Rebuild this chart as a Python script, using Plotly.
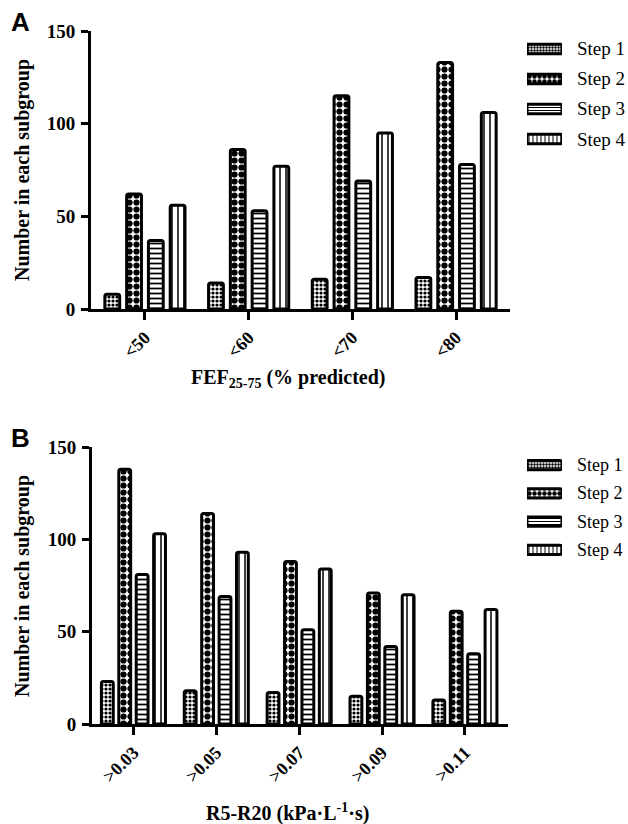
import plotly.graph_objects as go

# ---------------- data ----------------
series_names = ["Step 1", "Step 2", "Step 3", "Step 4"]

cats_a = ["<50", "<60", "<70", "<80"]
a_step1 = [8, 14, 16, 17]
a_step2 = [62, 86, 115, 133]
a_step3 = [37, 53, 69, 78]
a_step4 = [56, 77, 95, 106]

cats_b = [">0.03", ">0.05", ">0.07", ">0.09", ">0.11"]
b_step1 = [23, 18, 17, 15, 13]
b_step2 = [138, 114, 88, 71, 61]
b_step3 = [81, 69, 51, 42, 38]
b_step4 = [103, 93, 84, 70, 62]

y_ticks = [0, 50, 100, 150]

# ---------------- styles ----------------
W, H = 628, 824
SERIF = "Liberation Serif"
SANS = "Liberation Sans"

patterns = [
    dict(shape=".", size=4, solidity=0.5),
    dict(shape=".", size=7, solidity=0.62),
    dict(shape="-", size=5, solidity=0.35),
    dict(shape="|", size=6, solidity=0.25),
]

def px_x(p):
    return p / W

def px_y(p):
    return 1 - p / H

fig = go.Figure()

def add_panel(cats, series, xa, ya):
    for name, vals, pat in zip(series_names, series, patterns):
        fig.add_trace(go.Bar(
            x=cats, y=vals, name=name, xaxis=xa, yaxis=ya,
            showlegend=False,
            marker=dict(color="white",
                        line=dict(color="black", width=3),
                        cornerradius=2,
                        pattern=dict(fgcolor="black", bgcolor="white",
                                     fillmode="replace", **pat)),
        ))

add_panel(cats_a, [a_step1, a_step2, a_step3, a_step4], "x", "y")
add_panel(cats_b, [b_step1, b_step2, b_step3, b_step4], "x2", "y2")

swatch_len = [1] * len(series_names)

# legend swatches (drawn as small horizontal bars on their own axes)
def add_legend(xa, ya, fsize):
    fig.add_trace(go.Bar(
        y=series_names, x=swatch_len, orientation="h",
        xaxis=xa, yaxis=ya, showlegend=False, width=0.32,
        marker=dict(color="white",
                    line=dict(color="black", width=3),
                    cornerradius=2,
                    pattern=dict(fgcolor="black", bgcolor="white", fillmode="replace",
                                 shape=[p["shape"] for p in patterns],
                                 size=[max(3, p["size"] - 2) for p in patterns],
                                 solidity=[p["solidity"] for p in patterns])),
    ))
    for name, v in zip(series_names, swatch_len):
        fig.add_annotation(text=name, x=v, y=name, xref=xa, yref=ya,
                           xanchor="left", yanchor="middle", xshift=13,
                           showarrow=False,
                           font=dict(family=SERIF, size=fsize, color="black"))

add_legend("x3", "y3", 19)
add_legend("x4", "y4", 18)

tickfont = dict(family=SERIF, size=19, color="black", weight="bold")
xtickfont = dict(family=SERIF, size=18, color="black", weight="bold")

def yaxis_style(domain):
    return dict(domain=domain, range=[0, 150], tickvals=y_ticks,
                showline=True, linecolor="black", linewidth=3,
                ticks="outside", ticklen=7, tickwidth=3, tickcolor="black",
                showgrid=False, zeroline=False, tickfont=tickfont,
                ticklabelstandoff=2, automargin=False)

def xaxis_style(domain, rng):
    return dict(domain=domain, range=rng, type="category",
                showline=True, linecolor="black", linewidth=3,
                ticks="outside", ticklen=8, tickwidth=3, tickcolor="black",
                showgrid=False, zeroline=False, tickfont=xtickfont,
                tickangle=-45, automargin=False)

xa = xaxis_style([px_x(91), px_x(510)], [-0.52, 3.52]); xa["anchor"] = "y"
ya = yaxis_style([px_y(309), px_y(31)]); ya["anchor"] = "x"
xb = xaxis_style([px_x(92), px_x(508)], [-0.5, 4.52]); xb["anchor"] = "y2"
yb = yaxis_style([px_y(724), px_y(447)]); yb["anchor"] = "x2"

def leg_axes(xdom, ydom):
    lx = dict(domain=xdom, range=[0, 1], visible=False, fixedrange=True, automargin=False)
    ly = dict(domain=ydom, type="category", range=[3.5, -0.5],
              visible=False, fixedrange=True, automargin=False)
    return lx, ly

x3, y3 = leg_axes([px_x(527), px_x(562)], [px_y(154), px_y(34)])
x3["anchor"] = "y3"; y3["anchor"] = "x3"
x4, y4 = leg_axes([px_x(527), px_x(562)], [px_y(564), px_y(451)])
x4["anchor"] = "y4"; y4["anchor"] = "x4"

fig.update_layout(
    width=W, height=H, margin=dict(l=0, r=0, t=0, b=0, autoexpand=False),
    paper_bgcolor="white", plot_bgcolor="white",
    barmode="group", bargap=0.16, bargroupgap=0.32,
    xaxis=xa, yaxis=ya, xaxis2=xb, yaxis2=yb,
    xaxis3=x3, yaxis3=y3, xaxis4=x4, yaxis4=y4,
    showlegend=False,
)

ann = [
    dict(text="<b>A</b>", x=px_x(9), y=px_y(22), xanchor="left", yanchor="middle",
         font=dict(family=SANS, size=26, color="black")),
    dict(text="<b>B</b>", x=px_x(9), y=px_y(438), xanchor="left", yanchor="middle",
         font=dict(family=SANS, size=26, color="black")),
    dict(text="<b>Number in each subgroup</b>", x=px_x(22), y=px_y(170), textangle=-90,
         xanchor="center", yanchor="middle", font=dict(family=SERIF, size=20, color="black")),
    dict(text="<b>Number in each subgroup</b>", x=px_x(22), y=px_y(586), textangle=-90,
         xanchor="center", yanchor="middle", font=dict(family=SERIF, size=20, color="black")),
    dict(text="<b>FEF<sub>25-75</sub> (% predicted)</b>", x=px_x(288), y=px_y(378),
         xanchor="center", yanchor="middle", font=dict(family=SERIF, size=20, color="black")),
    dict(text="<b>R5-R20 (kPa·L<sup>-1</sup>·s)</b>", x=px_x(287), y=px_y(812),
         xanchor="center", yanchor="middle", font=dict(family=SERIF, size=20, color="black")),
]
for a in ann:
    a.update(xref="paper", yref="paper", showarrow=False)
    fig.add_annotation(**a)

fig.write_html("out.html", config={"displayModeBar": False},
               post_script="document.body.style.margin='0';")
